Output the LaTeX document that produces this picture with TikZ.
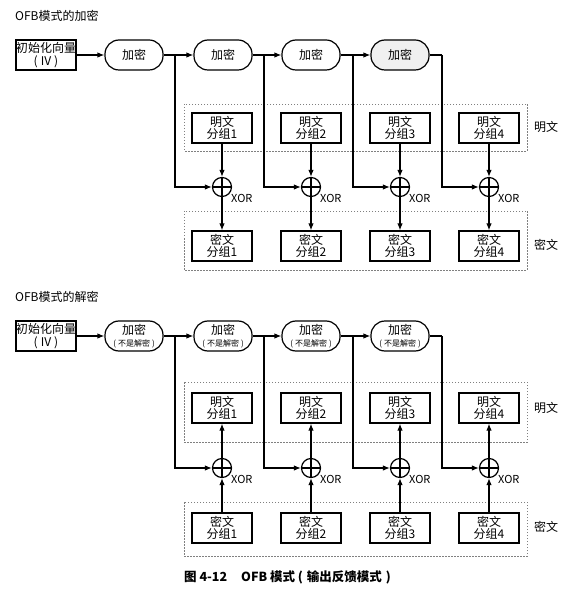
\documentclass[tikz,border=0pt]{standalone}
\usepackage{fontspec}
\setmainfont{Noto Sans CJK SC}
\usetikzlibrary{arrows.meta}
\begin{document}
\begin{tikzpicture}[x=1pt,y=-1pt,
  every node/.style={font=\fontsize{12}{12.5}\selectfont},
  blockbox/.style={draw, line width=1.2pt, minimum width=60pt, minimum height=30pt, inner sep=0pt, align=center},
  ivbox/.style={draw, line width=1.2pt, minimum width=60pt, minimum height=30pt, inner sep=0pt, align=center},
  encbox/.style={draw, line width=1.2pt, rounded corners=14pt, minimum width=58pt, minimum height=30pt, inner sep=0pt, align=center},
  xorc/.style={circle, draw, line width=1.2pt, minimum size=19pt, inner sep=0pt},
  xorlbl/.style={anchor=west, inner sep=0pt, font=\fontsize{11}{11}\selectfont},
  arr/.style={-{Latex[length=7pt,width=5.5pt]}, line width=1.2pt},
  ln/.style={line width=1.2pt},
  grp/.style={draw=gray, line width=0.8pt, dash pattern=on 1.5pt off 1.5pt}
]
\useasboundingbox (0,0) rectangle (580,593);

% ---------- Encryption ----------
\node[anchor=west, inner sep=0pt] (t1) at (15,16) {OFB模式的加密};
\node[ivbox, font=\fontsize{12}{13}\selectfont] (iv) at (46,55) {初始化向量\\(\hspace{3pt}IV\hspace{3pt})};
\node[encbox] (e1) at (134,55) {加密};
\node[encbox] (e2) at (223,55) {加密};
\node[encbox] (e3) at (311,55) {加密};
\node[encbox, fill=gray!12] (e4) at (400,55) {加密};
\coordinate (j1) at (175,55);
\coordinate (j2) at (264,55);
\coordinate (j3) at (353,55);
\coordinate (j4) at (442,55);

\draw[grp] (184,104) rectangle (527,151);
\draw[grp] (184,211) rectangle (527,270);
\node (lp) at (546,127) {明文};
\node (lc) at (546,245) {密文};

\foreach \i/\px in {1/222,2/311,3/400,4/489}{
  \node[blockbox] (p\i) at (\px,128) {明文\\分组\i};
  \node[xorc] (x\i) at (\px,187) {};
  \draw[ln] (x\i.north) -- (x\i.south) (x\i.west) -- (x\i.east);
  \node[xorlbl] (xl\i) at (\px+9,198) {XOR};
  \node[blockbox] (c\i) at (\px,246) {密文\\分组\i};
  \draw[arr] (p\i) -- (x\i);
  \draw[arr] (x\i) -- (c\i);
  \draw[arr] (j\i) |- (x\i);
}
\draw[arr] (iv) -- (e1);
\draw[arr] (e1) -- (e2);
\draw[arr] (e2) -- (e3);
\draw[arr] (e3) -- (e4);
\draw[ln] (e4.east) -- (j4);

% ---------- Decryption ----------
\node[anchor=west, inner sep=0pt] (t2) at (15,297) {OFB模式的解密};
\node[ivbox, font=\fontsize{12}{13}\selectfont] (div) at (46,336) {初始化向量\\(\hspace{3pt}IV\hspace{3pt})};
\node[encbox] (de1) at (134,336) {加密\\[-1pt]{\fontsize{8}{8}\selectfont (\hspace{2pt}不是解密\hspace{2pt})}};
\node[encbox] (de2) at (223,336) {加密\\[-1pt]{\fontsize{8}{8}\selectfont (\hspace{2pt}不是解密\hspace{2pt})}};
\node[encbox] (de3) at (311,336) {加密\\[-1pt]{\fontsize{8}{8}\selectfont (\hspace{2pt}不是解密\hspace{2pt})}};
\node[encbox] (de4) at (400,336) {加密\\[-1pt]{\fontsize{8}{8}\selectfont (\hspace{2pt}不是解密\hspace{2pt})}};
\coordinate (dj1) at (175,336);
\coordinate (dj2) at (264,336);
\coordinate (dj3) at (353,336);
\coordinate (dj4) at (442,336);

\draw[grp] (184,382) rectangle (527,442);
\draw[grp] (184,502) rectangle (527,556);
\node (dlp) at (546,408) {明文};
\node (dlc) at (546,527) {密文};

\foreach \i/\px in {1/222,2/311,3/400,4/489}{
  \node[blockbox] (dp\i) at (\px,408) {明文\\分组\i};
  \node[xorc] (dx\i) at (\px,468) {};
  \draw[ln] (dx\i.north) -- (dx\i.south) (dx\i.west) -- (dx\i.east);
  \node[xorlbl] (dxl\i) at (\px+9,479) {XOR};
  \node[blockbox] (dc\i) at (\px,528) {密文\\分组\i};
  \draw[arr] (dc\i) -- (dx\i);
  \draw[arr] (dx\i) -- (dp\i);
  \draw[arr] (dj\i) |- (dx\i);
}
\draw[arr] (div) -- (de1);
\draw[arr] (de1) -- (de2);
\draw[arr] (de2) -- (de3);
\draw[arr] (de3) -- (de4);
\draw[ln] (de4.east) -- (dj4);

% ---------- Caption ----------
\node[anchor=west, inner sep=0pt, font=\bfseries\fontsize{12.5}{14}\selectfont] (cap) at (184,577) {图 4-12\hspace{14pt}OFB 模式 (\hspace{4pt}输出反馈模式\hspace{4pt})};
\end{tikzpicture}
\end{document}
